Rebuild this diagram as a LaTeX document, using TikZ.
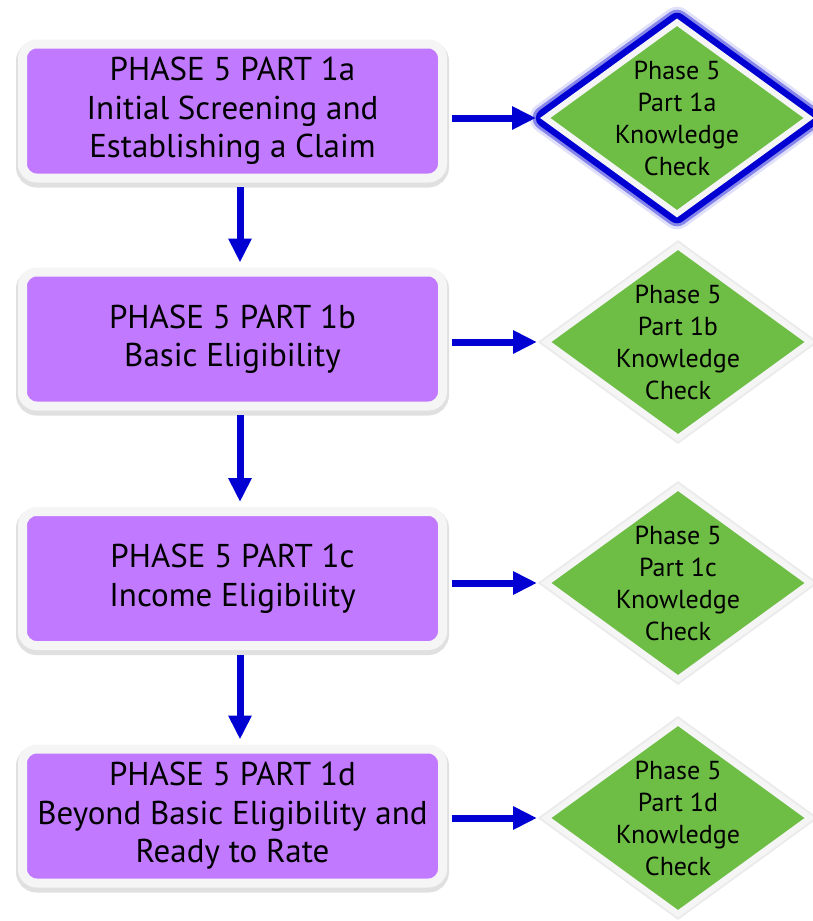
\documentclass[tikz,border=0pt]{standalone}
\usepackage{fontspec}
\setmainfont{PT Sans}
\usepackage{tikz}
\usetikzlibrary{shapes.geometric,arrows.meta}

\definecolor{phasepurple}{RGB}{193,122,255}
\definecolor{checkgreen}{RGB}{110,190,70}
\definecolor{flowblue}{RGB}{0,0,210}

\begin{document}
\begin{tikzpicture}[
							x=1pt, y=-1pt,
							phase/.style={rectangle, rounded corners=14pt, fill=phasepurple, draw=white!96!black, line width=9pt, minimum width=420pt, minimum height=134pt, inner sep=0pt, align=center, font=\fontsize{33}{38.5}\selectfont,
								preaction={draw=black, opacity=0.12, line width=13pt, transform canvas={yshift=-3pt}}},
							check/.style={diamond, aspect=1.37, fill=checkgreen, draw=white!96!black, line width=6pt, minimum width=266pt, minimum height=194pt, inner sep=-12pt, align=center, font=\fontsize{26}{32}\selectfont,
								preaction={draw=black, opacity=0.08, line width=10pt}},
							glow/.style={preaction={draw=flowblue!60, opacity=0.2, line width=31pt, line join=round}, preaction={draw=flowblue, opacity=0.4, line width=25pt, line join=round}, preaction={draw=flowblue, line width=19pt, line join=round}},
							flow/.style={draw=flowblue, line width=7pt, -{Triangle[length=24pt, width=22pt]}}
						]
						
						\useasboundingbox (0, 0) rectangle (813, 921);
						
						\node[phase] (part1a) at (232.5, 111) {PHASE 5 PART 1a\\Initial Screening and\\Establishing a Claim};
						\node[phase] (part1b) at (232.5, 339) {PHASE 5 PART 1b\\Basic Eligibility};
						\node[phase] (part1c) at (232.5, 578.5) {PHASE 5 PART 1c\\Income Eligibility};
						\node[phase] (part1d) at (232.5, 816) {PHASE 5 PART 1d\\Beyond Basic Eligibility and\\Ready to Rate};
						
						\node[check, glow] (check1a) at (677, 118) {Phase 5\\Part 1a\\Knowledge\\Check};
						\node[check] (check1b) at (678, 342) {Phase 5\\Part 1b\\Knowledge\\Check};
						\node[check] (check1c) at (678, 583) {Phase 5\\Part 1c\\Knowledge\\Check};
						\node[check] (check1d) at (678, 818) {Phase 5\\Part 1d\\Knowledge\\Check};
						
						\draw[flow, shorten <=4.5pt, shorten >=5pt] ([xshift=7.5pt]part1a.south) to ([xshift=7.5pt]part1b.north);
						\draw[flow, shorten <=4.5pt, shorten >=5pt] ([xshift=7.5pt]part1b.south) to ([xshift=7.5pt]part1c.north);
						\draw[flow, shorten <=4.5pt, shorten >=5pt] ([xshift=7.5pt]part1c.south) to ([xshift=7.5pt]part1d.north);
						
						\draw[flow, shorten <=4.5pt, shorten >=5pt] (part1a.east |- check1a.west) to (check1a.west);
						\draw[flow, shorten <=4.5pt, shorten >=5pt] (part1b.east |- check1b.west) to (check1b.west);
						\draw[flow, shorten <=4.5pt, shorten >=5pt] (part1c.east |- check1c.west) to (check1c.west);
						\draw[flow, shorten <=4.5pt, shorten >=5pt] (part1d.east |- check1d.west) to (check1d.west);
					\end{tikzpicture}
\end{document}
